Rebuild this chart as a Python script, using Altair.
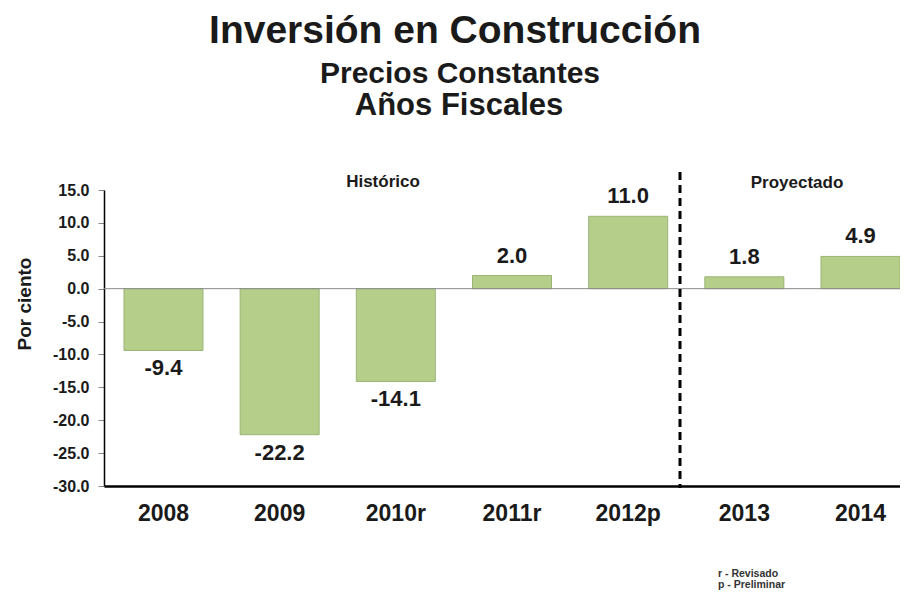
import altair as alt
import pandas as pd

years = ["2008", "2009", "2010r", "2011r", "2012p", "2013", "2014"]
values = [-9.4, -22.2, -14.1, 2.0, 11.0, 1.8, 4.9]
y_ticks = [-30, -25, -20, -15, -10, -5, 0, 5, 10, 15]

title_text = "Inversión en Construcción"
subtitle1 = "Precios Constantes"
subtitle2 = "Años Fiscales"
section_labels = ["Histórico", "Proyectado"]
footnotes = ["r -  Revisado", "p - Preliminar"]
y_title = "Por ciento"

df = pd.DataFrame({"year": years, "value": values})
df["label"] = df["value"].map(lambda v: f"{v:.1f}")

FONT = "Liberation Sans"
W, H = 796, 296

xenc = alt.X(
    "year:N", sort=years,
    scale=alt.Scale(paddingInner=0.32, paddingOuter=0.086, align=1),
    axis=alt.Axis(title=None, labelFontSize=23, labelFontWeight="bold", labelFont=FONT,
                  labelColor="#1a1a1a", labelAngle=0, ticks=False, labelPadding=16,
                  domainColor="#000000", domainWidth=2.5),
)
yaxis = alt.Axis(title=None, values=y_ticks, format=".1f",
                 labelExpr="replace(datum.label, '\u2212', '-')",
                 labelOverlap=False, labelFlush=False, labelFontSize=16,
                 labelFontWeight="bold", labelFont=FONT, labelColor="#1a1a1a",
                 tickSize=6, tickColor="#888888", labelPadding=9, grid=False,
                 domainColor="#000000", domainWidth=1.5)
yscale = alt.Scale(domain=[-30, 15], nice=False, zero=False)

base = alt.Chart(df)

bars = base.mark_bar(color="#b5cf8b", stroke="#9bb474", strokeWidth=1).encode(
    x=xenc, y=alt.Y("value:Q", scale=yscale, axis=yaxis), y2=alt.datum(0)
)

zero = alt.Chart(pd.DataFrame({"value": [0]})).mark_rule(color="#8a8a8a", strokeWidth=1).encode(
    y=alt.Y("value:Q", scale=yscale, axis=yaxis)
)

pos_lab = base.transform_filter("datum.value >= 0").mark_text(
    baseline="bottom", dy=-8, fontSize=22, fontWeight="bold", font=FONT, color="#1a1a1a"
).encode(x=alt.X("year:N", sort=years), y=alt.Y("value:Q", axis=yaxis), text="label:N")

neg_lab = base.transform_filter("datum.value < 0").mark_text(
    baseline="top", dy=8, fontSize=22, fontWeight="bold", font=FONT, color="#1a1a1a"
).encode(x=alt.X("year:N", sort=years), y=alt.Y("value:Q", axis=yaxis), text="label:N")

divider = alt.Chart(pd.DataFrame({"a": [0]})).mark_rule(
    color="#000000", strokeWidth=3, strokeDash=[8, 5]
).encode(x=alt.value(576), y=alt.value(-18), y2=alt.value(298))


def txt(text, x, y, size, align="center", color="#1a1a1a", angle=0):
    return alt.Chart(pd.DataFrame({"t": [text]})).mark_text(
        fontSize=size, fontWeight="bold", font=FONT, color=color, align=align,
        baseline="alphabetic", angle=angle
    ).encode(text="t:N", x=alt.value(x), y=alt.value(y))


texts = [
    txt(title_text, 351, -147, 39),
    txt(subtitle1, 356, -107, 30),
    txt(subtitle2, 355, -75, 31),
    txt(section_labels[0], 279, -3, 17),
    txt(section_labels[1], 693, -2, 17),
    txt(footnotes[0], 614, 387, 10.5, align="left", color="#333333"),
    txt(footnotes[1], 614, 398, 10.5, align="left", color="#333333"),
    alt.Chart(pd.DataFrame({"t": [y_title]})).mark_text(
        fontSize=19, fontWeight="bold", font=FONT, color="#1a1a1a", angle=270,
        baseline="middle", align="center"
    ).encode(text="t:N", x=alt.value(-79), y=alt.value(114)),
]

chart = alt.layer(bars, zero, pos_lab, neg_lab, divider, *texts).properties(
    width=W, height=H,
    autosize=alt.AutoSizeParams(type="none"),
    padding={"left": 96, "top": 182, "right": 0, "bottom": 105},
    background="white",
).configure_view(stroke=None)

chart.save("out.html", embed_options={"renderer": "svg", "actions": False})
